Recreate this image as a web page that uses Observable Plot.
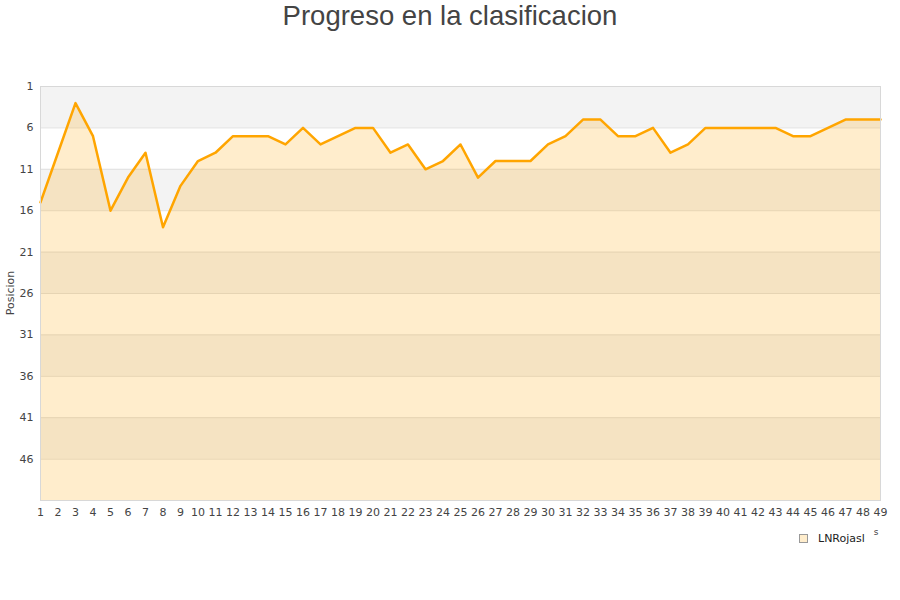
<!DOCTYPE html>
<html>
<head>
<meta charset="utf-8">
<script src="https://cdn.jsdelivr.net/npm/d3@7"></script>
<script src="https://cdn.jsdelivr.net/npm/@observablehq/plot@0.6"></script>
<style>
  body { margin: 0; background: #fff; }
  #wrap { position: relative; width: 900px; height: 600px; font-family: "DejaVu Sans", sans-serif; }
  #title { position: absolute; top: 0; left: 0; width: 900px; text-align: center; font-family: "Liberation Sans", Arial, sans-serif; font-size: 27.5px; color: #444; line-height: 32px; }
  #legend { position: absolute; left: 799px; top: 532px; font-size: 11px; color: #222; display: flex; align-items: center; }
  #legend .sw { width: 7px; height: 7px; background: #ffedcc; border: 1px solid #999; margin-right: 10px; }
  #chart { position: absolute; left: 0; top: 0; }
</style>
</head>
<body>
<div id="wrap">
  <div id="chart"></div>
  <div id="title">Progreso en la clasificacion</div>
  <div id="legend"><div class="sw"></div><span>LNRojasl</span></div>
</div>
<script>
const jornadas = d3.range(1, 50);
const posiciones = [15,9,3,7,16,12,9,18,13,10,9,7,7,7,8,6,8,7,6,6,9,8,11,10,8,12,10,10,10,8,7,5,5,7,7,6,9,8,6,6,6,6,6,7,7,6,5,5,5];
const yTicks = [1,6,11,16,21,26,31,36,41,46];
const bandStarts = [1,11,21,31,41];
const seriesName = "LNRojasl";

const data = jornadas.map((j, i) => ({jornada: j, pos: posiciones[i]}));
const bands = bandStarts.map(s => ({y1: s, y2: s + 5}));

const chart = Plot.plot({
  width: 900,
  height: 600,
  marginLeft: 40,
  marginRight: 20,
  marginTop: 86,
  marginBottom: 100,
  style: {fontFamily: "DejaVu Sans, sans-serif", fontSize: "11px", color: "#444", background: "transparent"},
  x: {domain: [1, 49], ticks: jornadas, tickFormat: d => d, label: null, tickSize: 0, tickPadding: 8},
  y: {domain: [1, 51], reverse: true, ticks: yTicks, label: null, tickSize: 0, tickPadding: 7},
  marks: [
    Plot.rect(bands, {y1: "y1", y2: "y2", fill: "#f3f3f3"}),
    Plot.ruleY(yTicks, {stroke: "#e0e0e0"}),
    Plot.areaY(data, {x: "jornada", y1: 51, y2: "pos", fill: "#ffa500", fillOpacity: 0.2}),
    Plot.lineY(data, {x: "jornada", y: "pos", stroke: "#ffa500", strokeWidth: 2.5}),
    Plot.frame({stroke: "#d8d8d8"}),
    Plot.axisX({ticks: jornadas, tickFormat: d => d, tickSize: 0, tickPadding: 8, label: null}),
    Plot.axisY({ticks: yTicks, tickSize: 0, tickPadding: 7, label: null})
  ]
});
document.getElementById("chart").appendChild(chart);

const svg = d3.select(chart);
svg.append("text")
  .attr("transform", "translate(14,293) rotate(-90)")
  .attr("text-anchor", "middle")
  .attr("font-size", 11)
  .attr("fill", "#444")
  .text("Posicion");
svg.append("text")
  .attr("x", 876).attr("y", 535)
  .attr("text-anchor", "middle")
  .attr("font-size", 9)
  .attr("fill", "#444")
  .text(seriesName.slice(-0, 0) + "s");
</script>
</body>
</html>
